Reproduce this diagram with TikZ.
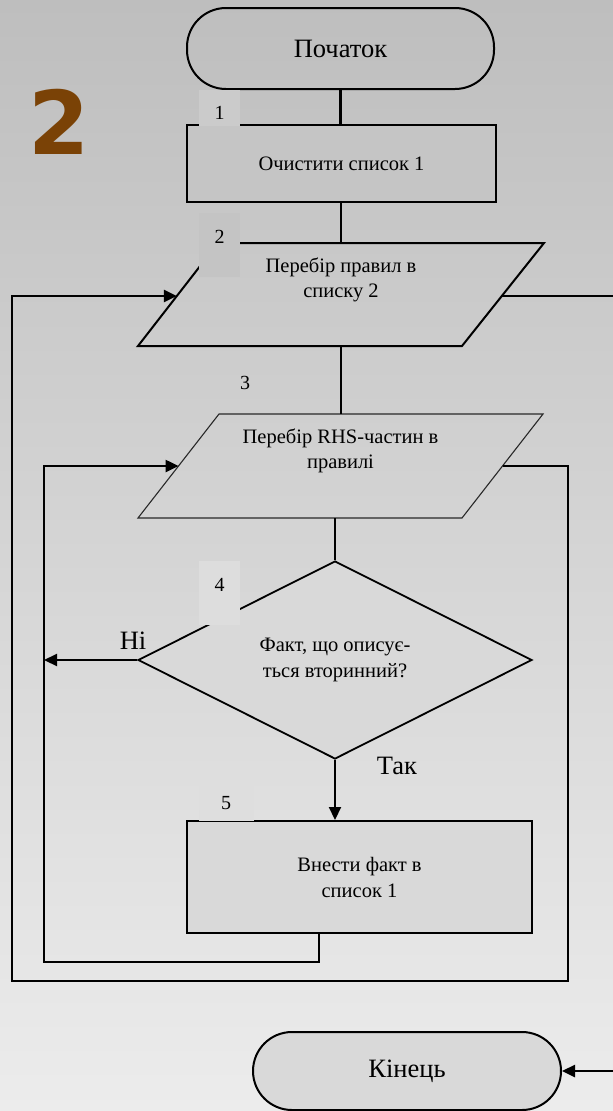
\documentclass[tikz,border=0pt]{standalone}
\usepackage{fontspec}
\setmainfont{Liberation Serif}
\newfontfamily\bigsans{DejaVu Sans}
\usetikzlibrary{arrows.meta,shapes.geometric}
\definecolor{bgtop}{RGB}{190,190,190}
\definecolor{bgbot}{RGB}{236,236,236}
\definecolor{bigbrown}{RGB}{122,66,6}
\definecolor{boxone}{RGB}{197,197,197}
\definecolor{labone}{RGB}{203,203,203}
\definecolor{labtwo}{RGB}{196,196,196}
\definecolor{labfour}{RGB}{221,221,221}
\definecolor{labfive}{RGB}{222,222,222}
\definecolor{lightfill}{RGB}{217,217,217}
\definecolor{thinline}{RGB}{40,40,40}
\begin{document}
\begin{tikzpicture}[x=1pt,y=-1pt,
  conn/.style={line width=2.1pt},
  loopline/.style={line width=2.5pt},
  >={Triangle[length=13pt,width=12pt]},
  term/.style={draw,line width=2pt,rounded corners=39pt,inner sep=0pt,
    font=\fontsize{26.5}{30}\selectfont},
  proc/.style={draw,line width=2pt,inner sep=0pt,align=center,
    font=\fontsize{20.5}{26}\selectfont},
  txt/.style={inner sep=0pt,align=center,font=\fontsize{20.5}{25}\selectfont},
  lab/.style={inner sep=0pt,font=\fontsize{20}{24}\selectfont},
  biglab/.style={inner sep=0pt,font=\fontsize{26.5}{30}\selectfont},
  border/.style={line width=2pt,line join=miter}]
\useasboundingbox (0,0) rectangle (613,1111);
\shade[top color=bgtop,bottom color=bgbot] (0,0) rectangle (613,1111);

% big number
\node[inner sep=0pt,text=bigbrown,font=\bigsans\bfseries\fontsize{88}{88}\selectfont] (big) at (59,122) {2};

% terminals and process boxes
\node[term,minimum width=307pt,minimum height=81pt] (start) at (340.5,48.5) {Початок};
\node[proc,fill=boxone,minimum width=309pt,minimum height=77pt] (b1) at (341.5,163.5) {Очистити список 1};

% parallelogram 2
\coordinate (p2tl) at (218,243);
\coordinate (p2tr) at (544,243);
\coordinate (p2br) at (462,346);
\coordinate (p2bl) at (138,346);
\draw[border] (p2tl) -- (p2tr) -- (p2br) -- (p2bl) -- cycle;
\coordinate (p2top) at (341,243);
\coordinate (p2bot) at (341,346);
\coordinate (p2w) at (176.8,296);
\coordinate (p2e) at (502,296);
\node[txt] (t2) at (341,280) {Перебір правил в\\списку 2};

% parallelogram 3
\coordinate (p3tl) at (219,414);
\coordinate (p3tr) at (543,414);
\coordinate (p3br) at (462,518);
\coordinate (p3bl) at (138,518);
\draw[line width=1.1pt,draw=thinline] (p3tl) -- (p3tr) -- (p3br) -- (p3bl) -- cycle;
\coordinate (p3top) at (341,414);
\coordinate (p3bot) at (335,518);
\coordinate (p3w) at (178.5,466);
\coordinate (p3e) at (502.5,466);
\node[txt] (t3) at (340.5,451) {Перебір RHS-частин в\\правилі};

% decision
\node[diamond,draw,fill=lightfill,line width=1.8pt,minimum width=394pt,minimum height=198pt,
  inner sep=0pt,align=center,font=\fontsize{20.5}{26}\selectfont] (dec) at (335,660) {Факт, що описує-\\ться вторинний?};

% process 5
\node[proc,fill=lightfill,minimum width=345pt,minimum height=112pt] (b5) at (359.5,877) {Внести факт в\\список 1};

% end
\node[term,fill=lightfill,minimum width=308pt,minimum height=78pt] (end) at (407,1071) {Кінець};

% number label boxes
\fill[labone] (199,90) rectangle (240,126);
\fill[labtwo] (199,213) rectangle (240,277);
\fill[labfour] (199,561) rectangle (240,625);
\fill[labfive] (199,780) rectangle (254,821);
\node[lab] (n1) at (219.5,113) {1};
\node[lab] (n2) at (219.5,237) {2};
\node[lab] (n3) at (245,383) {3};
\node[lab] (n4) at (219.5,585) {4};
\node[lab] (n5) at (226,803) {5};

% branch labels
\node[biglab] (no) at (133,641) {Ні};
\node[biglab] (yes) at (397,766) {Так};

% connectors
\draw[conn] (start.south) -- (start.south |- b1.north);
\draw[conn] (p2top |- b1.south) -- (p2top);
\draw[conn] (p2bot) -- (p3top);
\draw[conn] (p3bot) -- (dec.north);
\draw[conn,->] (dec.south) -- (dec.south |- b5.north);
\coordinate (innerL) at (44,660);
\draw[conn,->] (dec.west) -- (innerL);
\coordinate (b5out) at (319,933);
\draw[loopline,->] (b5out) |- (44,962) |- (p3w);
\draw[loopline,->] (p3e) -| (568,981) -| (12,296) -- (p2w);
\draw[loopline,->] (p2e) -| ([xshift=55pt]end.east) -- (end.east);
\end{tikzpicture}
\end{document}
